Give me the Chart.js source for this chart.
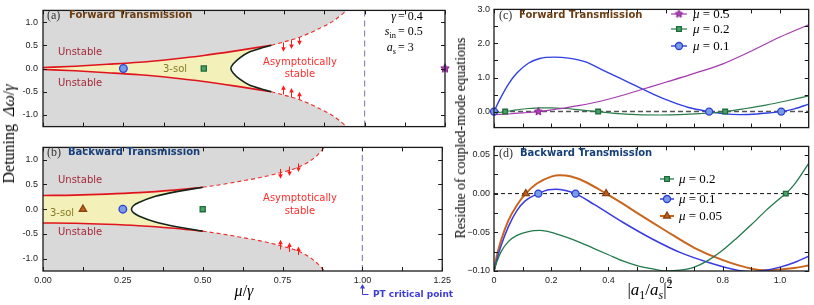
<!DOCTYPE html>
<html>
<head>
<meta charset="utf-8">
<script src="https://cdn.jsdelivr.net/npm/chart.js@4.4.0/dist/chart.umd.min.js"></script>
<style>
  body { margin: 0; background: #fff; width: 814px; height: 305px; position: relative; overflow: hidden; }
  canvas { position: absolute; }
  .t { position: absolute; white-space: nowrap; line-height: 1; }
  .sans { font-family: "DejaVu Sans", sans-serif; font-size: 10px; }
  .bold { font-family: "DejaVu Sans", sans-serif; font-weight: bold; font-size: 10px; }
  .serif { font-family: "Liberation Serif", serif; }
  .fwd { color: #6b3d12; }
  .bwd { color: #173f78; }
  .uns { color: #a5283a; }
  .sol { color: #857a28; }
  .asy { color: #ff2d2d; text-align: center; width: 100px; line-height: 12px; }
  .rot { transform: translate(-50%, -50%) rotate(-90deg); }
  i { font-style: italic; }
  sub, sup { font-size: 70%; line-height: 0; }
</style>
</head>
<body>
<canvas id="chartA" width="455" height="137" style="left:0;top:0"></canvas>
<canvas id="chartB" width="455" height="168" style="left:0;top:137px"></canvas>
<canvas id="chartC" width="362" height="137" style="left:452px;top:0"></canvas>
<canvas id="chartD" width="362" height="168" style="left:452px;top:137px"></canvas>

<!-- panel (a) -->
<div class="t serif" style="left:47px;top:9px;font-size:12px;color:#333">(a)</div>
<div class="t bold fwd" style="left:69px;top:10px">Forward Transmission</div>
<div class="t sans uns" style="left:58px;top:47px">Unstable</div>
<div class="t sans uns" style="left:58px;top:78px">Unstable</div>
<div class="t sans sol" style="left:163px;top:64px">3-sol</div>
<div class="t sans asy" style="left:250px;top:56px">Asymptotically<br>stable</div>
<div class="t serif" style="right:418px;top:10px;font-size:12px"><i>γ</i></div>
<div class="t serif" style="left:398px;top:10px;font-size:12px">= 0.4</div>
<div class="t serif" style="right:418px;top:25px;font-size:12px"><i>s</i><sub>in</sub></div>
<div class="t serif" style="left:398px;top:25px;font-size:12px">= 0.5</div>
<div class="t serif" style="right:418px;top:41px;font-size:12px"><i>a<sub>s</sub></i></div>
<div class="t serif" style="left:398px;top:41px;font-size:12px">= 3</div>

<!-- panel (b) -->
<div class="t serif" style="left:47px;top:146px;font-size:12px;color:#333">(b)</div>
<div class="t bold bwd" style="left:68px;top:147px">Backward Transmission</div>
<div class="t sans uns" style="left:58px;top:175px">Unstable</div>
<div class="t sans uns" style="left:58px;top:227px">Unstable</div>
<div class="t sans sol" style="left:50px;top:208px">3-sol</div>
<div class="t sans asy" style="left:250px;top:191px;line-height:13px">Asymptotically<br>stable</div>
<div class="t bold" style="left:373px;top:290px;font-size:9px;color:#3c3cd8">PT critical point</div>

<!-- panel (c) -->
<div class="t serif" style="left:499px;top:9px;font-size:12px;color:#333">(c)</div>
<div class="t bold fwd" style="left:519px;top:10px">Forward Transmission</div>
<div class="t serif" style="left:693px;top:7px;font-size:13px"><i>μ</i> = 0.5</div>
<div class="t serif" style="left:693px;top:22px;font-size:13px"><i>μ</i> = 0.2</div>
<div class="t serif" style="left:693px;top:39px;font-size:13px"><i>μ</i> = 0.1</div>

<!-- panel (d) -->
<div class="t serif" style="left:499px;top:147px;font-size:12px;color:#333">(d)</div>
<div class="t bold bwd" style="left:520px;top:148px">Backward Transmission</div>
<div class="t serif" style="left:679px;top:172px;font-size:13px"><i>μ</i> = 0.2</div>
<div class="t serif" style="left:679px;top:192px;font-size:13px"><i>μ</i> = 0.1</div>
<div class="t serif" style="left:679px;top:209px;font-size:13px"><i>μ</i> = 0.05</div>

<!-- axis titles -->
<div class="t serif rot" style="left:9px;top:134px;font-size:16px">Detuning&nbsp; <i>Δω</i>/<i>γ</i></div>
<div class="t serif" style="left:244px;top:283px;font-size:16px;transform:translateX(-50%)"><i>μ</i>/<i>γ</i></div>
<div class="t serif rot" style="left:461px;top:138px;font-size:14px">Residue of coupled-mode equations</div>
<div class="t serif" style="left:650px;top:281px;font-size:17px;transform:translateX(-50%)">|<i>a</i><sub>1</sub>/<i>a<sub>s</sub></i>|<sup>2</sup></div>

<script>
// ---- (a) forward transmission: stability map ----
const aUpperX = [0, 0.1, 0.2, 0.3, 0.4, 0.5, 0.6, 0.71];
const aUpperY = [0.02, 0.05, 0.09, 0.135, 0.2, 0.28, 0.38, 0.5];
const aLowerY = [-0.02, -0.05, -0.09, -0.135, -0.2, -0.28, -0.38, -0.5];
const aEdgeX = [0.71, 0.746, 0.798, 0.85, 0.902, 0.95];
const aEdgeUpY = [0.5, 0.566, 0.673, 0.83, 1.02, 1.28];
const aEdgeLoY = [-0.5, -0.566, -0.673, -0.83, -1.02, -1.28];
const aTurnX = [0.71, 0.684, 0.643, 0.612, 0.592, 0.584, 0.592, 0.612, 0.643, 0.684, 0.71];
const aTurnY = [0.5, 0.45, 0.36, 0.23, 0.1, 0, -0.1, -0.23, -0.36, -0.45, -0.5];
const aCircleX = [0.25];
const aSquareX = [0.5];
const aStarX = [1.25];
const aArrowX = [0.745, 0.77, 0.797];
const aArrowTopFrom = [0.56, 0.62, 0.67];
const aArrowTopTo = [0.36, 0.42, 0.5];
const aArrowBotFrom = [-0.56, -0.62, -0.67];
const aArrowBotTo = [-0.36, -0.42, -0.5];

// ---- (b) backward transmission: stability map ----
const bUpperX = [0, 0.1, 0.2, 0.3, 0.4, 0.5];
const bUpperY = [0.278, 0.285, 0.305, 0.335, 0.38, 0.444];
const bLowerY = [-0.278, -0.285, -0.305, -0.335, -0.38, -0.444];
const bEdgeX = [0.5, 0.56, 0.62, 0.68, 0.745, 0.8, 0.83, 0.86, 0.885];
const bEdgeUpY = [0.444, 0.5, 0.568, 0.64, 0.741, 0.85, 0.95, 1.1, 1.28];
const bEdgeLoY = [-0.444, -0.5, -0.568, -0.64, -0.741, -0.85, -0.95, -1.1, -1.28];
const bTurnX = [0.5, 0.414, 0.352, 0.3, 0.283, 0.277, 0.283, 0.3, 0.352, 0.414, 0.5];
const bTurnY = [0.444, 0.35, 0.26, 0.136, 0.07, 0, -0.07, -0.136, -0.26, -0.35, -0.444];
const bTriangleX = [0.125];
const bCircleX = [0.25];
const bSquareX = [0.5];
const bArrowX = [0.743, 0.77, 0.797];
const bArrowTopFrom = [0.815, 0.864, 0.926];
const bArrowTopTo = [0.617, 0.673, 0.753];
const bArrowBotFrom = [-0.815, -0.864, -0.926];
const bArrowBotTo = [-0.617, -0.673, -0.753];

const ptLine = [1.0];   // PT critical point

// ---- (c) forward residues ----
const cMu05X = [0, 0.05, 0.1, 0.155, 0.2, 0.25, 0.3, 0.364, 0.45, 0.525, 0.6, 0.7, 0.8, 0.9, 1.0, 1.1];
const cMu05Y = [-0.09, -0.07, -0.04, 0, 0.05, 0.11, 0.18, 0.29, 0.48, 0.67, 0.86, 1.12, 1.4, 1.78, 2.19, 2.55];
const cMu02X = [0, 0.039, 0.08, 0.12, 0.16, 0.2, 0.25, 0.3, 0.364, 0.42, 0.5, 0.58, 0.65, 0.72, 0.808, 0.88, 0.95, 1.02, 1.1];
const cMu02Y = [-0.04, 0, 0.05, 0.09, 0.11, 0.11, 0.09, 0.05, 0, -0.05, -0.09, -0.1, -0.09, -0.06, 0, 0.09, 0.19, 0.31, 0.46];
const cMu01X = [0, 0.02, 0.05, 0.08, 0.12, 0.16, 0.21, 0.26, 0.32, 0.38, 0.44, 0.5, 0.56, 0.62, 0.68, 0.752, 0.8, 0.86, 0.92, 0.97, 1.004, 1.05, 1.1];
const cMu01Y = [0, 0.35, 0.8, 1.13, 1.42, 1.56, 1.6, 1.57, 1.46, 1.22, 0.98, 0.74, 0.5, 0.29, 0.12, 0, -0.06, -0.09, -0.07, -0.03, 0, 0.08, 0.22];
const cRoots05 = [0.155];
const cRoots02 = [0.039, 0.364, 0.808];
const cRoots01 = [0, 0.752, 1.004];

// ---- (d) backward residues ----
const dMu02X = [0, 0.01, 0.025, 0.05, 0.08, 0.12, 0.16, 0.2, 0.25, 0.3, 0.35, 0.4, 0.45, 0.5, 0.55, 0.6, 0.65, 0.7, 0.75, 0.8, 0.85, 0.9, 0.95, 1.0, 1.02, 1.05, 1.1];
const dMu02Y = [-0.1, -0.088, -0.075, -0.062, -0.054, -0.049, -0.0476, -0.05, -0.056, -0.063, -0.071, -0.079, -0.087, -0.093, -0.097, -0.1, -0.099, -0.095, -0.086, -0.073, -0.057, -0.04, -0.022, -0.006, 0, 0.012, 0.039];
const dMu01X = [0, 0.01, 0.025, 0.05, 0.08, 0.11, 0.155, 0.19, 0.215, 0.25, 0.285, 0.35, 0.45, 0.55, 0.65, 0.75, 0.85, 0.9, 0.95, 1.0, 1.05, 1.1];
const dMu01Y = [-0.1, -0.085, -0.067, -0.043, -0.022, -0.009, 0, 0.005, 0.0056, 0.004, 0, -0.014, -0.037, -0.058, -0.076, -0.089, -0.099, -0.101, -0.099, -0.095, -0.089, -0.081];
const dMu005X = [0, 0.01, 0.025, 0.05, 0.08, 0.111, 0.15, 0.2, 0.23, 0.27, 0.32, 0.392, 0.45, 0.5, 0.6, 0.7, 0.8, 0.9, 0.95, 1.0, 1.05, 1.1];
const dMu005Y = [-0.1, -0.08, -0.06, -0.035, -0.015, 0, 0.013, 0.022, 0.0238, 0.022, 0.015, 0, -0.013, -0.025, -0.048, -0.07, -0.086, -0.097, -0.099, -0.098, -0.096, -0.093];
const dRoots02 = [1.02];
const dRoots01 = [0.155, 0.285];
const dRoots005 = [0.111, 0.392];

// ---- ticks ----
const abXMajor = [0, 0.25, 0.5, 0.75, 1.0, 1.25];
const abXMinor = [0.125, 0.375, 0.625, 0.875, 1.125];
const abYMajor = [-1.0, -0.5, 0, 0.5, 1.0];
const cdXMajor = [0, 0.2, 0.4, 0.6, 0.8, 1.0];
const cdXMinor = [0.1, 0.3, 0.5, 0.7, 0.9];
const cYMajor = [0, 1, 2, 3];
const cYMinor = [0.5, 1.5, 2.5];
const dYMajor = [-0.1, -0.05, 0, 0.05];
const dYMinor = [-0.075, -0.025, 0.025];

const red = '#e0141c';
const gray = '#d9d9d9';
const yellow = '#f3f1b9';
const tickFont = { family: 'Liberation Sans', size: 9 };

function pts(xs, ys) { return xs.map((x, i) => ({ x: x, y: ys[i] })); }
function onZero(xs) { return xs.map(x => ({ x: x, y: 0 })); }

function starImage(r, fill, stroke) {
    const c = document.createElement('canvas');
    const s = Math.ceil(r * 2 + 3);
    c.width = s; c.height = s;
    const g = c.getContext('2d');
    g.translate(s / 2, s / 2);
    g.beginPath();
    for (let i = 0; i < 10; i++) {
        const rr = i % 2 ? r * 0.5 : r;
        const a = -Math.PI / 2 + i * Math.PI / 5;
        g.lineTo(rr * Math.cos(a), rr * Math.sin(a));
    }
    g.closePath();
    g.fillStyle = fill; g.fill();
    g.strokeStyle = stroke; g.lineWidth = 1; g.stroke();
    return c;
}
const starBig = starImage(4.5, '#b33cb8', '#7d1a85');
const starSmall = starImage(4, '#b33cb8', '#7d1a85');

// line dataset helper
function curve(data, color, width, extra) {
    return Object.assign({
        data: data, borderColor: color, borderWidth: width, pointRadius: 0,
        fill: false, cubicInterpolationMode: 'monotone'
    }, extra || {});
}
function marks(data, style, radius, fillC, borderC, extra) {
    return Object.assign({
        data: data, showLine: false, pointStyle: style, pointRadius: radius,
        pointBackgroundColor: fillC, pointBorderColor: borderC, pointBorderWidth: 1.3,
        clip: false, order: 0
    }, extra || {});
}

// yellow "3-sol" region: upper boundary, turning curve, lower boundary back
function region(xs, ys, color) {
    return {
        id: 'region',
        beforeDatasetsDraw(chart) {
            const { ctx, chartArea: a, scales: { x, y } } = chart;
            ctx.save();
            ctx.beginPath();
            ctx.rect(a.left, a.top, a.right - a.left, a.bottom - a.top);
            ctx.clip();
            ctx.beginPath();
            xs.forEach((v, i) => {
                const px = x.getPixelForValue(v), py = y.getPixelForValue(ys[i]);
                if (i) ctx.lineTo(px, py); else ctx.moveTo(px, py);
            });
            ctx.closePath();
            ctx.fillStyle = color;
            ctx.fill();
            ctx.restore();
        }
    };
}

// inward ticks + frame
function frame(xt, yt) {
    return {
        id: 'frame',
        afterDatasetsDraw(chart) {
            const { ctx, chartArea: a, scales } = chart;
            ctx.save();
            ctx.strokeStyle = '#1a1a1a';
            ctx.lineWidth = 1;
            ctx.beginPath();
            xt.forEach(v => {
                const p = Math.round(scales.x.getPixelForValue(v)) + 0.5;
                ctx.moveTo(p, a.bottom); ctx.lineTo(p, a.bottom - 4);
                ctx.moveTo(p, a.top); ctx.lineTo(p, a.top + 4);
            });
            yt.forEach(v => {
                const p = Math.round(scales.y.getPixelForValue(v)) + 0.5;
                ctx.moveTo(a.left, p); ctx.lineTo(a.left + 4, p);
                ctx.moveTo(a.right, p); ctx.lineTo(a.right - 4, p);
            });
            ctx.stroke();
            ctx.lineWidth = 1.3;
            ctx.strokeRect(a.left, a.top, a.right - a.left, a.bottom - a.top);
            ctx.restore();
        }
    };
}

// red arrows pointing into the stable region
function arrows(xs, from1, to1, from2, to2) {
    return {
        id: 'arrows',
        afterDatasetsDraw(chart) {
            const { ctx, scales: { x, y } } = chart;
            ctx.save();
            ctx.strokeStyle = '#ff1a1a';
            ctx.fillStyle = '#ff1a1a';
            ctx.lineWidth = 1;
            const one = (px, y0, y1) => {
                const dir = y1 > y0 ? 1 : -1;
                ctx.beginPath();
                ctx.moveTo(px, y0); ctx.lineTo(px, y1 - dir * 3);
                ctx.stroke();
                ctx.beginPath();
                ctx.moveTo(px, y1); ctx.lineTo(px - 2.3, y1 - dir * 4.5); ctx.lineTo(px + 2.3, y1 - dir * 4.5);
                ctx.closePath(); ctx.fill();
            };
            xs.forEach((v, i) => {
                const px = Math.round(x.getPixelForValue(v)) + 0.5;
                one(px, y.getPixelForValue(from1[i]), y.getPixelForValue(to1[i]));
                one(px, y.getPixelForValue(from2[i]), y.getPixelForValue(to2[i]));
            });
            ctx.restore();
        }
    };
}

function legendSamples(x0, x1, items) {
    return {
        id: 'legendSamples',
        afterDraw(chart) {
            const ctx = chart.ctx;
            items.forEach(it => {
                const ln = chart.data.datasets[it.line];
                const mk = chart.data.datasets[it.mark];
                ctx.save();
                ctx.strokeStyle = ln.borderColor;
                ctx.lineWidth = ln.borderWidth;
                ctx.beginPath(); ctx.moveTo(x0, it.y); ctx.lineTo(x1, it.y); ctx.stroke();
                ctx.fillStyle = mk.pointBackgroundColor;
                ctx.strokeStyle = mk.pointBorderColor;
                ctx.lineWidth = mk.pointBorderWidth;
                Chart.helpers.drawPoint(ctx, { pointStyle: mk.pointStyle, radius: mk.pointRadius, rotation: 0, borderWidth: mk.pointBorderWidth }, (x0 + x1) / 2, it.y);
                ctx.restore();
            });
        }
    };
}

function yAxis(min, max, ticks, fmt, width, pad) {
    return {
        type: 'linear', min: min, max: max,
        afterBuildTicks: s => { s.ticks = ticks.map(v => ({ value: v })); },
        afterFit: s => { s.width = width; },
        ticks: { callback: fmt, font: tickFont, color: '#222', padding: pad, autoSkip: false },
        grid: { display: false, drawTicks: false },
        border: { display: false }
    };
}
function xAxis(min, max, ticks, fmt, height) {
    return {
        type: 'linear', min: min, max: max,
        afterBuildTicks: s => { s.ticks = ticks.map(v => ({ value: v })); },
        afterFit: s => { s.height = height; },
        ticks: { callback: fmt, font: tickFont, color: '#222', padding: 4, autoSkip: false, maxRotation: 0 },
        grid: { display: false, drawTicks: false },
        border: { display: false }
    };
}
const baseOpts = {
    responsive: false, animation: false, events: [],
    plugins: { legend: { display: false }, tooltip: { enabled: false } }
};

// ---------- chart (a) ----------
new Chart(document.getElementById('chartA'), {
    type: 'line',
    data: {
        datasets: [
            marks(onZero(aCircleX), 'circle', 3.8, '#7a9ce8', '#2b3fd6'),
            marks(onZero(aSquareX), 'rect', 3.6, '#4aa36a', '#1e6b3a'),
            marks(onZero(aStarX), starBig, 5, '#b33cb8', '#7d1a85'),
            curve(pts([ptLine[0], ptLine[0]], [-1.25, 1.25]), '#8a8ab8', 1.2, { borderDash: [6, 4], order: 2, cubicInterpolationMode: 'default', tension: 0 }),
            curve(pts(aTurnX, aTurnY), '#14261a', 1.6, { order: 3, cubicInterpolationMode: 'default', tension: 0.2 }),
            curve(pts(aUpperX, aUpperY), red, 1.6, { order: 3 }),
            curve(pts(aUpperX, aLowerY), red, 1.6, { order: 3 }),
            curve(pts(aEdgeX, aEdgeUpY), '#ee2a2a', 1.1, { order: 3, borderDash: [4, 3] }),
            curve(pts(aEdgeX, aEdgeLoY), '#ee2a2a', 1.1, { order: 3, borderDash: [4, 3] }),
            curve(pts(aUpperX.concat(aEdgeX.slice(1)), aUpperY.concat(aEdgeUpY.slice(1))),
                  'rgba(0,0,0,0)', 0, { fill: 'end', backgroundColor: gray, order: 9 }),
            curve(pts(aUpperX.concat(aEdgeX.slice(1)), aLowerY.concat(aEdgeLoY.slice(1))),
                  'rgba(0,0,0,0)', 0, { fill: 'start', backgroundColor: gray, order: 9 })
        ]
    },
    options: Object.assign({}, baseOpts, {
        layout: { padding: { top: 2, right: 10, bottom: 3, left: 0 } },
        scales: {
            x: { type: 'linear', min: 0, max: 1.25, display: false },
            y: yAxis(-1.25, 1.25, abYMajor, v => v.toFixed(1), 43, 5)
        }
    }),
    plugins: [region(aUpperX.concat(aTurnX.slice(1, -1), aUpperX.slice().reverse()),
                     aUpperY.concat(aTurnY.slice(1, -1), aLowerY.slice().reverse()), yellow),
              frame(abXMajor.concat(abXMinor), abYMajor),
              arrows(aArrowX, aArrowTopFrom, aArrowTopTo, aArrowBotFrom, aArrowBotTo)]
});

// ---------- chart (b) ----------
const ptArrow = {
    id: 'ptArrow',
    afterDraw(chart) {
        const { ctx, scales: { x } } = chart;
        const px = Math.round(x.getPixelForValue(ptLine[0])) + 0.5;
        const yb = 157.5, yt = 147;
        ctx.save();
        ctx.strokeStyle = '#3c3cd8'; ctx.fillStyle = '#3c3cd8'; ctx.lineWidth = 1;
        ctx.beginPath();
        ctx.moveTo(px + 6, yb); ctx.lineTo(px, yb); ctx.lineTo(px, yt + 2);
        ctx.stroke();
        ctx.beginPath();
        ctx.moveTo(px, yt); ctx.lineTo(px - 2.5, yt + 4.5); ctx.lineTo(px + 2.5, yt + 4.5);
        ctx.closePath(); ctx.fill();
        ctx.restore();
    }
};
new Chart(document.getElementById('chartB'), {
    type: 'line',
    data: {
        datasets: [
            marks(onZero(bTriangleX), 'triangle', 4.2, '#c0601c', '#8a4010'),
            marks(onZero(bCircleX), 'circle', 3.8, '#7a9ce8', '#2b3fd6'),
            marks(onZero(bSquareX), 'rect', 3.6, '#4aa36a', '#1e6b3a'),
            curve(pts([ptLine[0], ptLine[0]], [-1.25, 1.25]), '#8a8ab8', 1.2, { borderDash: [6, 4], order: 2, cubicInterpolationMode: 'default', tension: 0 }),
            curve(pts(bTurnX, bTurnY), '#14261a', 1.6, { order: 3, cubicInterpolationMode: 'default', tension: 0.2 }),
            curve(pts(bUpperX, bUpperY), red, 1.6, { order: 3 }),
            curve(pts(bUpperX, bLowerY), red, 1.6, { order: 3 }),
            curve(pts(bEdgeX, bEdgeUpY), '#ee2a2a', 1.1, { order: 3, borderDash: [4, 3] }),
            curve(pts(bEdgeX, bEdgeLoY), '#ee2a2a', 1.1, { order: 3, borderDash: [4, 3] }),
            curve(pts(bUpperX.concat(bEdgeX.slice(1)), bUpperY.concat(bEdgeUpY.slice(1))),
                  'rgba(0,0,0,0)', 0, { fill: 'end', backgroundColor: gray, order: 9 }),
            curve(pts(bUpperX.concat(bEdgeX.slice(1)), bLowerY.concat(bEdgeLoY.slice(1))),
                  'rgba(0,0,0,0)', 0, { fill: 'start', backgroundColor: gray, order: 9 })
        ]
    },
    options: Object.assign({}, baseOpts, {
        layout: { padding: { top: 1, right: 10, bottom: 0, left: 0 } },
        scales: {
            x: xAxis(0, 1.25, abXMajor, v => v.toFixed(2), 34),
            y: yAxis(-1.25, 1.25, abYMajor, v => v.toFixed(1), 43, 5)
        }
    }),
    plugins: [region(bUpperX.concat(bTurnX.slice(1, -1), bUpperX.slice().reverse()),
                     bUpperY.concat(bTurnY.slice(1, -1), bLowerY.slice().reverse()), yellow),
              frame(abXMajor.concat(abXMinor), abYMajor),
              arrows(bArrowX, bArrowTopFrom, bArrowTopTo, bArrowBotFrom, bArrowBotTo), ptArrow]
});

// ---------- chart (c) ----------
new Chart(document.getElementById('chartC'), {
    type: 'line',
    data: {
        datasets: [
            curve(pts(cMu05X, cMu05Y), '#a43aae', 1.2, { order: 3 }),
            curve(pts(cMu02X, cMu02Y), '#2a7a4a', 1.2, { order: 3 }),
            curve(pts(cMu01X, cMu01Y), '#3040e0', 1.4, { order: 3 }),
            marks(onZero(cRoots05), starSmall, 4, '#b33cb8', '#7d1a85'),
            marks(onZero(cRoots02), 'rect', 3.3, '#4aa36a', '#1e6b3a'),
            marks(onZero(cRoots01), 'circle', 3.5, '#7a9ce8', '#2b3fd6'),
            curve(pts([0, 1.1], [0, 0]), '#555', 1.5, { borderDash: [5, 3], order: 4 })
        ]
    },
    options: Object.assign({}, baseOpts, {
        layout: { padding: { top: 2, right: 1, bottom: 3, left: 0 } },
        scales: {
            x: { type: 'linear', min: 0, max: 1.1, display: false },
            y: yAxis(-0.47, 3.0, cYMajor, v => v.toFixed(1), 42, 4)
        }
    }),
    plugins: [frame(cdXMajor.concat(cdXMinor), cYMajor.concat(cYMinor)),
              legendSamples(219, 235, [{ line: 0, mark: 3, y: 14 }, { line: 1, mark: 4, y: 29 }, { line: 2, mark: 5, y: 46 }])]
});

// ---------- chart (d) ----------
new Chart(document.getElementById('chartD'), {
    type: 'line',
    data: {
        datasets: [
            curve(pts(dMu02X, dMu02Y), '#237a4c', 1.3, { order: 3 }),
            curve(pts(dMu01X, dMu01Y), '#3a3ae0', 1.5, { order: 3 }),
            curve(pts(dMu005X, dMu005Y), '#c8661e', 2, { order: 3 }),
            marks(onZero(dRoots02), 'rect', 3.3, '#4aa36a', '#1e6b3a'),
            marks(onZero(dRoots01), 'circle', 3.5, '#7a9ce8', '#2b3fd6'),
            marks(onZero(dRoots005), 'triangle', 4, '#c0601c', '#8a4010'),
            curve(pts([0, 1.1], [0, 0]), '#111', 1, { borderDash: [4, 3], order: 4 })
        ]
    },
    options: Object.assign({}, baseOpts, {
        layout: { padding: { top: 1, right: 1, bottom: 0, left: 0 } },
        scales: {
            x: xAxis(0, 1.1, cdXMajor, v => (v === 0 ? '0' : v.toFixed(1)), 34),
            y: yAxis(-0.1, 0.061, dYMajor, v => v.toFixed(2).replace('-', '\u2212'), 42, 4)
        }
    }),
    plugins: [frame(cdXMajor.concat(cdXMinor), dYMajor.concat(dYMinor)),
              legendSamples(208, 222, [{ line: 0, mark: 3, y: 42 }, { line: 1, mark: 4, y: 62 }, { line: 2, mark: 5, y: 79 }])]
});
</script>
</body>
</html>
